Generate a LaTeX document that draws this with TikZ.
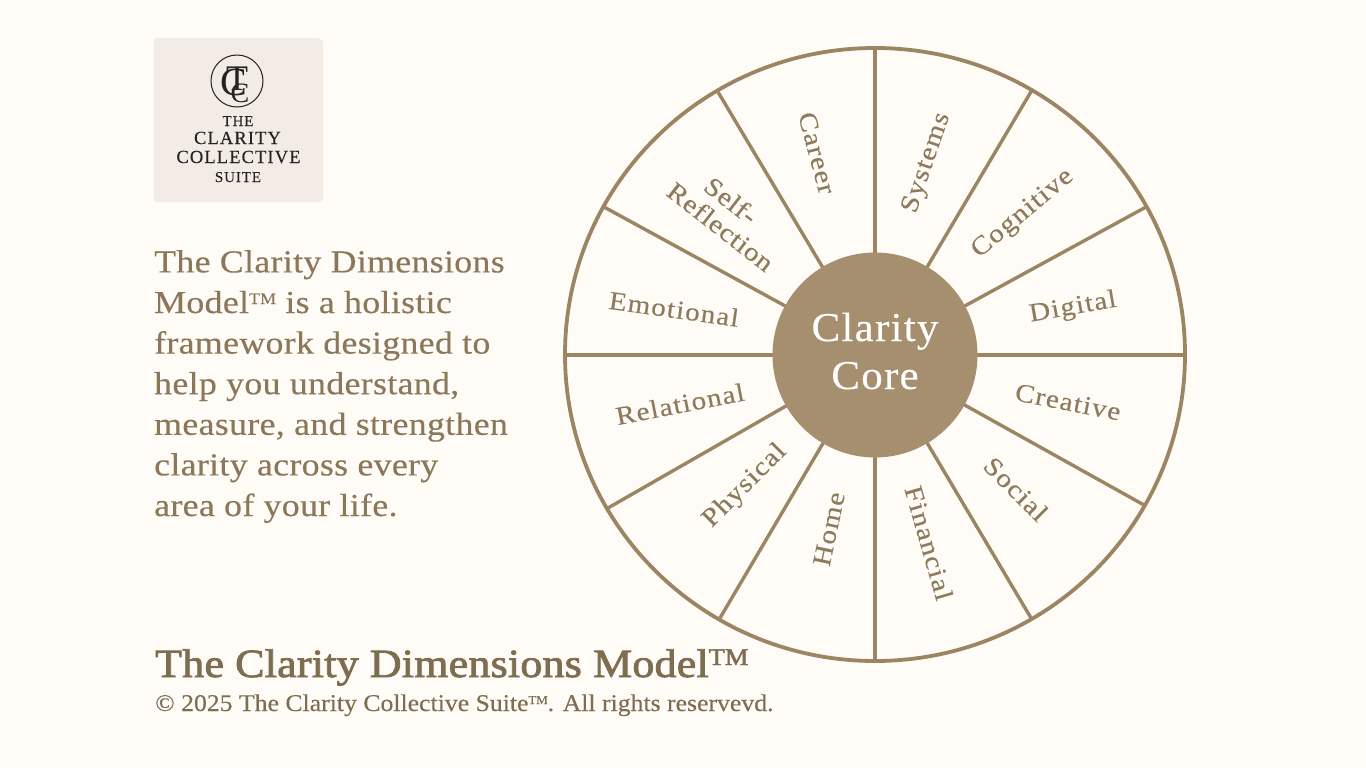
\documentclass[tikz,border=0pt]{standalone}
\usepackage{fontspec}
\usetikzlibrary{calc}
\setmainfont{Liberation Serif}
\newfontfamily\bodyf[FakeStretch=1.12,LetterSpace=1.0,FakeBold=0.3]{Liberation Serif}
\newfontfamily\copyf[FakeStretch=1.07,LetterSpace=0.1,FakeBold=0.25]{Liberation Serif}
\newfontfamily\labf[FakeStretch=1.12,LetterSpace=4.5,FakeBold=0.25]{Liberation Serif}
\newfontfamily\labg[FakeStretch=1.12,LetterSpace=2.5,FakeBold=0.25]{Liberation Serif}
\newfontfamily\coref[FakeStretch=1.05,LetterSpace=3,FakeBold=0.2]{Liberation Serif}
\newfontfamily\titlef[FakeStretch=1.1,LetterSpace=0.5,FakeBold=2]{Liberation Serif}
\newfontfamily\capsf[LetterSpace=6,FakeBold=0.1]{Liberation Serif}
\newcommand{\tmk}[1]{\raisebox{#1}{\scalebox{0.5}{TM}}}
\definecolor{bgc}{HTML}{FFFBF6}
\definecolor{wheel}{HTML}{9C8563}
\definecolor{corefill}{HTML}{A58F6F}
\definecolor{txt}{HTML}{8B7759}
\definecolor{ttl}{HTML}{7F6D52}
\definecolor{lab}{HTML}{8E7A5C}
\definecolor{logob}{HTML}{F3EBE5}
\definecolor{logos}{HTML}{F6EEE5}
\definecolor{ink}{HTML}{25231F}
\tikzset{
  spoke/.style={draw=wheel,line width=3.4pt},
  seglabel/.style={text=lab,inner sep=0pt,align=center,font=\labf\fontsize{26}{29}\selectfont},
  logotext/.style={text=ink,inner sep=0pt,anchor=base,font=\capsf},
}
\begin{document}
\begin{tikzpicture}[x=1pt,y=-1pt]
\useasboundingbox (0,0) rectangle (1366,768);
\fill[bgc] (0,0) rectangle (1366,768);
% logo
\fill[logos,rounded corners=2pt] (156,40) rectangle (323,202);
\node[fill=logob,rounded corners=2pt,minimum width=166pt,minimum height=164pt,inner sep=0pt] (logo) at (237,120) {};
\node[draw=ink,circle,line width=1pt,minimum size=52pt,inner sep=0pt] (mono) at (237,81) {};
\node[text=ink,inner sep=0pt] (monoT) at (237,79) {\fontsize{36}{36}\selectfont T};
\node[text=ink,inner sep=0pt] (monoC1) at (234,82) {\fontsize{40}{40}\selectfont C};
\node[text=ink,inner sep=0pt] (monoC2) at (240,93) {\fontsize{28}{28}\selectfont C};
\node[logotext] (l1) at (238,126) {\fontsize{15}{15}\selectfont THE};
\node[logotext] (l2) at (237.5,144) {\fontsize{18.5}{18.5}\selectfont CLARITY};
\node[logotext] (l3) at (238.5,163) {\fontsize{18.5}{18.5}\selectfont COLLECTIVE};
\node[logotext] (l4) at (238,182) {\fontsize{15}{15}\selectfont SUITE};
% body
\node[anchor=north west,inner sep=0pt,text=txt,align=left,font=\bodyf\fontsize{32}{40.6}\selectfont] (body) at (154,250) {The Clarity Dimensions\\Model\tmk{9pt} is a holistic\\framework designed to\\help you understand,\\measure, and strengthen\\clarity across every\\area of your life.};
% title
\node[anchor=base west,inner sep=0pt,text=ttl,font=\titlef\fontsize{40}{40}\selectfont] (title) at (155,677) {The Clarity Dimensions Model\raisebox{12pt}{\scalebox{0.6}{TM}}};
\node[anchor=base west,inner sep=0pt,text=ttl,font=\copyf\fontsize{24}{24}\selectfont] (copy) at (155,711) {© 2025 The Clarity Collective Suite\raisebox{7pt}{\scalebox{0.5}{TM}}. All rights reservevd.};
% wheel
\coordinate (c) at (875,355);
\draw[draw=wheel,line width=3.8pt] (875,354.5) ellipse [x radius=310,y radius=306.5];
\foreach \n/\x/\y in {a/1032/90,b/1146/207,d/1185/355,e/1144/505,f/1031/618,g/875/660,h/720/618,i/608/508,j/565/355,k/604/207,l/718/92,m/875/49}{
  \coordinate (r\n) at (\x,\y);
  \draw[spoke] (c) -- (r\n);
}
\node[circle,fill=corefill,minimum size=205pt,inner sep=0pt] (core) at (c) {};
\node[text=white,inner sep=0pt,align=center,font=\coref\fontsize{41}{48}\selectfont] (coretext) at (875,351) {Clarity\\Core};
% labels
\node[seglabel,rotate=-75] (career) at (817,153) {Career};
\node[seglabel,rotate=71] (systems) at (927,163) {Systems};
\node[seglabel,rotate=40] (cognitive) at (1023,214) {Cognitive};
\node[seglabel,rotate=10] (digital) at (1073,308) {Digital};
\node[seglabel,rotate=-11] (creative) at (1068,402) {Creative};
\node[seglabel,rotate=-45] (social) at (1016,489) {Social};
\node[seglabel,rotate=-74] (financial) at (929,543) {Financial};
\node[seglabel,rotate=78] (home) at (829,529) {Home};
\node[seglabel,rotate=45] (physical) at (745,486) {Physical};
\node[seglabel,rotate=11] (relational) at (680,404) {Relational};
\node[seglabel,rotate=-8] (emotional) at (674,309) {Emotional};
\node[seglabel,rotate=-38,font=\labg\fontsize{26}{27}\selectfont] (self) at (729,216) {Self-\hspace*{16pt}\\Reflection};
\end{tikzpicture}
\end{document}
